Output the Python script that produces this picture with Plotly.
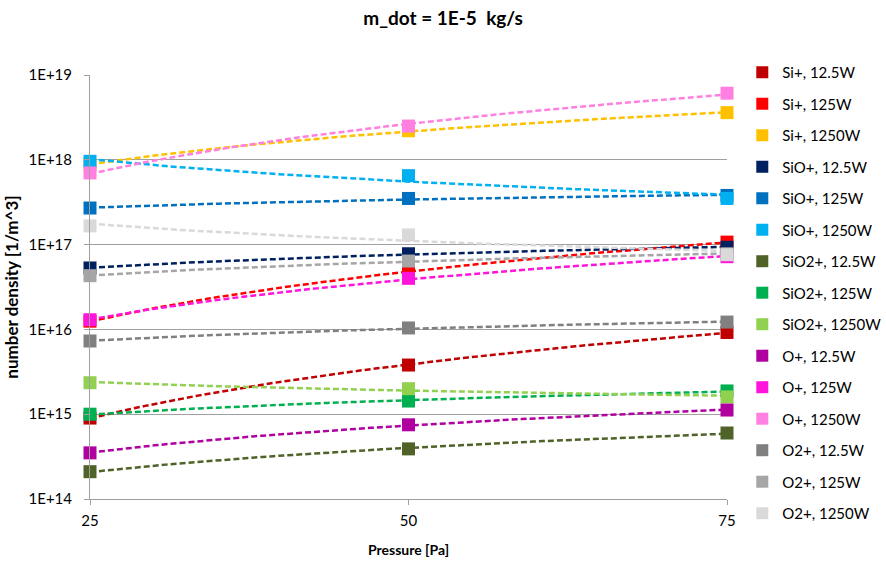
import numpy as np
import plotly.graph_objects as go

pressure = [25, 50, 75]

series_names = [
    "Si+, 12.5W", "Si+, 125W", "Si+, 1250W",
    "SiO+, 12.5W", "SiO+, 125W", "SiO+, 1250W",
    "SiO2+, 12.5W", "SiO2+, 125W", "SiO2+, 1250W",
    "O+, 12.5W", "O+, 125W", "O+, 1250W",
    "O2+, 12.5W", "O2+, 125W", "O2+, 1250W",
]

si_12 = [9.0e14, 3.8e15, 9.2e15]
si_125 = [1.25e16, 4.75e16, 1.07e17]
si_1250 = [8.8e17, 2.2e18, 3.6e18]
sio_12 = [5.3e16, 7.8e16, 9.3e16]
sio_125 = [2.7e17, 3.5e17, 3.8e17]
sio_1250 = [9.6e17, 6.5e17, 3.5e17]
sio2_12 = [2.1e14, 3.9e14, 6.0e14]
sio2_125 = [1.0e15, 1.43e15, 1.88e15]
sio2_1250 = [2.35e15, 2.0e15, 1.6e15]
o_12 = [3.5e14, 7.5e14, 1.12e15]
o_125 = [1.3e16, 4.0e16, 7.2e16]
o_1250 = [7.0e17, 2.5e18, 6.1e18]
o2_12 = [7.3e15, 1.04e16, 1.22e16]
o2_125 = [4.3e16, 6.4e16, 7.8e16]
o2_1250 = [1.66e17, 1.3e17, 7.6e16]

values = [si_12, si_125, si_1250, sio_12, sio_125, sio_1250,
          sio2_12, sio2_125, sio2_1250, o_12, o_125, o_1250,
          o2_12, o2_125, o2_1250]

colors = ["#C00000", "#FF0000", "#FFC000",
          "#002060", "#0070C0", "#00B0F0",
          "#4F6228", "#00B050", "#92D050",
          "#B000A0", "#FF14DC", "#FF80E0",
          "#808080", "#A6A6A6", "#D9D9D9"]

y_tick_vals = [1e14, 1e15, 1e16, 1e17, 1e18, 1e19]
y_tick_text = ["1E+14", "1E+15", "1E+16", "1E+17", "1E+18", "1E+19"]
x_tick_vals = [25, 50, 75]

FONT = "Lato"
fig = go.Figure()

# power-law trendlines (Excel style) fitted to each series
xs = np.linspace(min(pressure), max(pressure), 60)
for name, vals, c in zip(series_names, values, colors):
    b, loga = np.polyfit(np.log(pressure), np.log(vals), 1)
    ys = np.exp(loga) * xs ** b
    fig.add_trace(go.Scatter(
        x=xs, y=ys, mode="lines", showlegend=False, hoverinfo="skip",
        line=dict(color=c, width=2.5, dash="6px,3px"),
    ))

for i, (name, vals, c) in enumerate(zip(series_names, values, colors)):
    fig.add_trace(go.Scatter(
        x=pressure, y=vals, mode="markers", name=name, legendgroup=f"g{i}",
        marker=dict(symbol="square", size=13, color=c, line=dict(width=0)),
        cliponaxis=False,
    ))

fig.update_layout(
    width=886, height=561,
    margin=dict(l=90, r=159, t=75, b=62, autoexpand=False),
    paper_bgcolor="white", plot_bgcolor="white",
    font=dict(family=FONT, size=14, color="#000000"),
    title=dict(text="<b>m_dot = 1E-5  kg/s</b>", x=0.5, xanchor="center",
               y=0.968, yanchor="middle", font=dict(size=19, family=FONT)),
    legend=dict(x=1.024, xanchor="left", y=1.045, yanchor="top",
                font=dict(size=15, family=FONT), tracegroupgap=9,
                maxheight=560,
                itemsizing="constant", bgcolor="rgba(0,0,0,0)"),
    showlegend=True,
)
fig.update_xaxes(
    range=[25, 75], tickvals=x_tick_vals, ticks="outside", ticklen=5,
    tickcolor="#A0A0A0", showline=True, linecolor="#A0A0A0", linewidth=1,
    showgrid=False, zeroline=False, ticklabelstandoff=3,
    title=dict(text="<b>Pressure [Pa]</b>", font=dict(size=14, family=FONT), standoff=17),
    tickfont=dict(size=15, family=FONT),
)
fig.update_yaxes(
    type="log", range=[14, 19], tickvals=y_tick_vals, ticktext=y_tick_text,
    ticks="outside", ticklen=5, tickcolor="#A0A0A0",
    showline=True, linecolor="#A0A0A0", linewidth=1, ticklabelstandoff=9,
    showgrid=True, gridcolor="#A0A0A0", gridwidth=1, zeroline=False,
    title=dict(text="<b>number density [1/m^3]</b>", font=dict(size=17, family=FONT), standoff=5),
    tickfont=dict(size=15, family=FONT),
)

fig.write_html("out.html")
